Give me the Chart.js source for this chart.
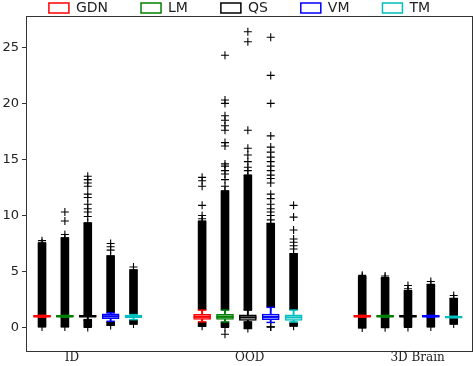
<!DOCTYPE html>
<html>
<head>
<meta charset="utf-8">
<script src="https://cdn.jsdelivr.net/npm/chart.js@4.4.0/dist/chart.umd.min.js"></script>
<style>
    html, body { margin: 0; padding: 0; background: #ffffff; }
    #wrap { width: 476px; height: 366px; }
</style>
</head>
<body>
<div id="wrap"><canvas id="chart-box"></canvas></div>
<script>
// methods and groups
var methods = ['GDN', 'LM', 'QS', 'VM', 'TM'];
var colors = ['#ff0000', '#008000', '#000000', '#0000ff', '#00bfbf'];
var groups = ['ID', 'OOD', '3D Brain'];
var groupStart = [1, 8, 15];
var groupTickPos = [2.31, 10.08, 17.42];
var yTicks = [0, 5, 10, 15, 20, 25];

// one row per method, one value per group (ID, OOD, 3D Brain)
var q1 = [[0.92, 0.72, 0.92], [0.92, 0.72, 0.92], [0.92, 0.62, 0.92], [0.78, 0.69, 0.92], [0.87, 0.62, 0.87]];
var q3 = [[1.08, 1.17, 1.08], [1.08, 1.17, 1.08], [1.08, 1.12, 1.08], [1.22, 1.2, 1.08], [1.1, 1.12, 1.0]];
var medians = [[1.0, 0.95, 1.0], [1.0, 0.95, 1.0], [1.0, 0.9, 1.0], [1.0, 0.95, 1.0], [0.95, 0.9, 0.92]];
var whiskerLo = [[0.92, 0.5, 0.92], [0.92, 0.5, 0.92], [0.7, 0.5, 0.92], [0.55, 0.45, 0.92], [0.7, 0.5, 0.87]];
var whiskerHi = [[1.08, 1.55, 1.08], [1.08, 1.55, 1.08], [1.08, 1.55, 1.08], [1.3, 1.8, 1.08], [1.15, 1.55, 1.0]];

// ranges where the outlier crosses pile up into a solid bar
var upperLo = [[1.08, 1.6, 1.08], [1.08, 1.6, 1.08], [1.08, 1.6, 1.08], [1.35, 1.85, 1.08], [1.2, 1.6, 1.0]];
var upperHi = [[7.55, 9.5, 4.55], [8.0, 12.2, 4.45], [9.35, 13.6, 3.3], [6.4, 9.3, 3.85], [5.15, 6.6, 2.6]];
var lowerLo = [[0.05, 0.1, -0.05], [0.05, 0.0, -0.02], [0.0, -0.1, 0.0], [0.18, 0.05, 0.05], [0.3, 0.12, 0.3]];
var lowerHi = [[0.92, 0.45, 0.92], [0.92, 0.45, 0.92], [0.65, 0.45, 0.92], [0.47, 0.05, 0.92], [0.65, 0.4, 0.87]];

// single outliers
var fliers = [
    [[7.75], [13.4, 13.1, 12.6, 10.9, 10.0, 9.7], [4.65]],
    [[10.3, 9.5, 8.3], [24.3, 20.3, 20.0, 18.9, 18.5, 18.0, 17.6, 16.5, 16.2, 14.6, 14.4, 14.0, 13.7, 13.2, 12.6, -0.6], [4.6]],
    [[13.5, 13.2, 12.9, 12.6, 11.9, 11.6, 11.0, 10.6, 10.3, 9.9], [26.4, 25.5, 17.6, 16.0, 15.4, 14.8, 14.3, 14.0], [3.75, 3.45]],
    [[7.5, 7.2, 6.9], [25.9, 22.5, 20.0, 17.1, 16.1, 15.65, 15.2, 14.8, 14.4, 14.0, 13.6, 13.3, 12.9, 11.9, 11.5, 11.0, 10.6, 10.3, 10.0, 9.6], [4.1]],
    [[5.4], [10.9, 9.85, 8.7, 7.9, 7.6, 7.3, 7.0], [2.85]]
];

Chart.defaults.font.family = "DejaVu Sans";
Chart.defaults.font.size = 13;
Chart.defaults.color = '#222222';

function pos(m, g) {
    return groupStart[g] + m;
}

var datasets = [];

// boxes (also the legend entries)
methods.forEach(function(name, m) {
    datasets.push({
        type: 'bar',
        label: name,
        order: 2,
        grouped: false,
        data: groups.map(function(_, g) { return {x: pos(m, g), y: [q1[m][g], q3[m][g]]}; }),
        backgroundColor: '#ffffff',
        borderColor: colors[m],
        borderWidth: 1.5,
        borderSkipped: false,
        barThickness: 17
    });
});

methods.forEach(function(name, m) {
    // median
    datasets.push({
        type: 'scatter',
        label: '',
        order: 1,
        data: groups.map(function(_, g) { return {x: pos(m, g), y: medians[m][g]}; }),
        pointStyle: 'line',
        radius: 8.5,
        borderColor: colors[m],
        borderWidth: 2.2
    });
    // whiskers
    datasets.push({
        type: 'bar',
        label: '',
        order: 3,
        grouped: false,
        data: groups.map(function(_, g) { return {x: pos(m, g), y: [whiskerLo[m][g], whiskerHi[m][g]]}; }),
        backgroundColor: colors[m],
        borderWidth: 0,
        barThickness: 1.2
    });
    // caps
    var caps = [];
    groups.forEach(function(_, g) {
        caps.push({x: pos(m, g), y: whiskerLo[m][g]});
        caps.push({x: pos(m, g), y: whiskerHi[m][g]});
    });
    datasets.push({
        type: 'scatter',
        label: '',
        order: 3,
        data: caps,
        pointStyle: 'line',
        radius: 4.25,
        borderColor: colors[m],
        borderWidth: 1.5
    });
});

// dense outlier piles
var dense = [];
var crosses = [];
methods.forEach(function(name, m) {
    groups.forEach(function(_, g) {
        var x = pos(m, g);
        dense.push({x: x, y: [upperLo[m][g], upperHi[m][g]]});
        dense.push({x: x, y: [lowerLo[m][g], lowerHi[m][g]]});
        [upperLo[m][g], upperHi[m][g], lowerLo[m][g], lowerHi[m][g]].concat(fliers[m][g]).forEach(function(v) {
            crosses.push({x: x, y: v});
        });
    });
});

datasets.push({
    type: 'bar',
    label: '',
    order: 5,
    grouped: false,
    data: dense,
    backgroundColor: '#000000',
    borderWidth: 0,
    barThickness: 8
});
datasets.push({
    type: 'scatter',
    label: '',
    order: 4,
    data: crosses,
    pointStyle: 'cross',
    radius: 4,
    borderColor: '#000000',
    borderWidth: 1.1
});

var frameColor = '#333333';

new Chart(document.getElementById('chart-box'), {
    type: 'scatter',
    data: { datasets: datasets },
    options: {
        responsive: true,
        maintainAspectRatio: false,
        animation: false,
        layout: { autoPadding: false, padding: { top: -32, right: 0, left: 3, bottom: 0 } },
        plugins: {
            tooltip: { enabled: false },
            legend: {
                position: 'top',
                maxHeight: 48,
                labels: {
                    boxWidth: 20,
                    boxHeight: 10,
                    padding: 33,
                    color: '#222222',
                    font: { size: 14 },
                    filter: function(item) { return item.datasetIndex < methods.length; }
                }
            }
        },
        scales: {
            x: {
                type: 'linear',
                position: 'bottom',
                min: 0.3,
                max: 19.8,
                offset: false,
                afterBuildTicks: function(scale) {
                    scale.ticks = groupTickPos.map(function(v) { return {value: v}; });
                },
                afterFit: function(scale) { scale.height = 15; },
                grid: { display: false, drawTicks: false },
                border: { display: true, color: frameColor, width: 1 },
                ticks: {
                    autoSkip: false,
                    maxRotation: 0,
                    padding: 0,
                    color: '#222222',
                    font: { family: "DejaVu Serif", size: 12 },
                    callback: function(value, index) { return groups[index]; }
                }
            },
            y: {
                type: 'linear',
                position: 'left',
                min: -2.1,
                max: 27.8,
                afterBuildTicks: function(scale) {
                    scale.ticks = yTicks.map(function(v) { return {value: v}; });
                },
                afterFit: function(scale) { scale.width = 23; },
                grid: { display: true, drawOnChartArea: false, drawTicks: true, tickLength: 4, color: frameColor },
                border: { display: true, color: frameColor, width: 1 },
                ticks: { padding: 3, color: '#222222', font: { size: 13 } }
            },
            xTop: {
                type: 'linear',
                position: 'top',
                afterFit: function(scale) { scale.height = 0; },
                grid: { display: false, drawTicks: false },
                border: { display: true, color: frameColor, width: 1 },
                ticks: { display: false }
            },
            yRight: {
                type: 'linear',
                position: 'right',
                afterFit: function(scale) { scale.width = 4; },
                grid: { display: false, drawTicks: false },
                border: { display: true, color: frameColor, width: 1 },
                ticks: { display: false }
            }
        }
    }
});
</script>
</body>
</html>
